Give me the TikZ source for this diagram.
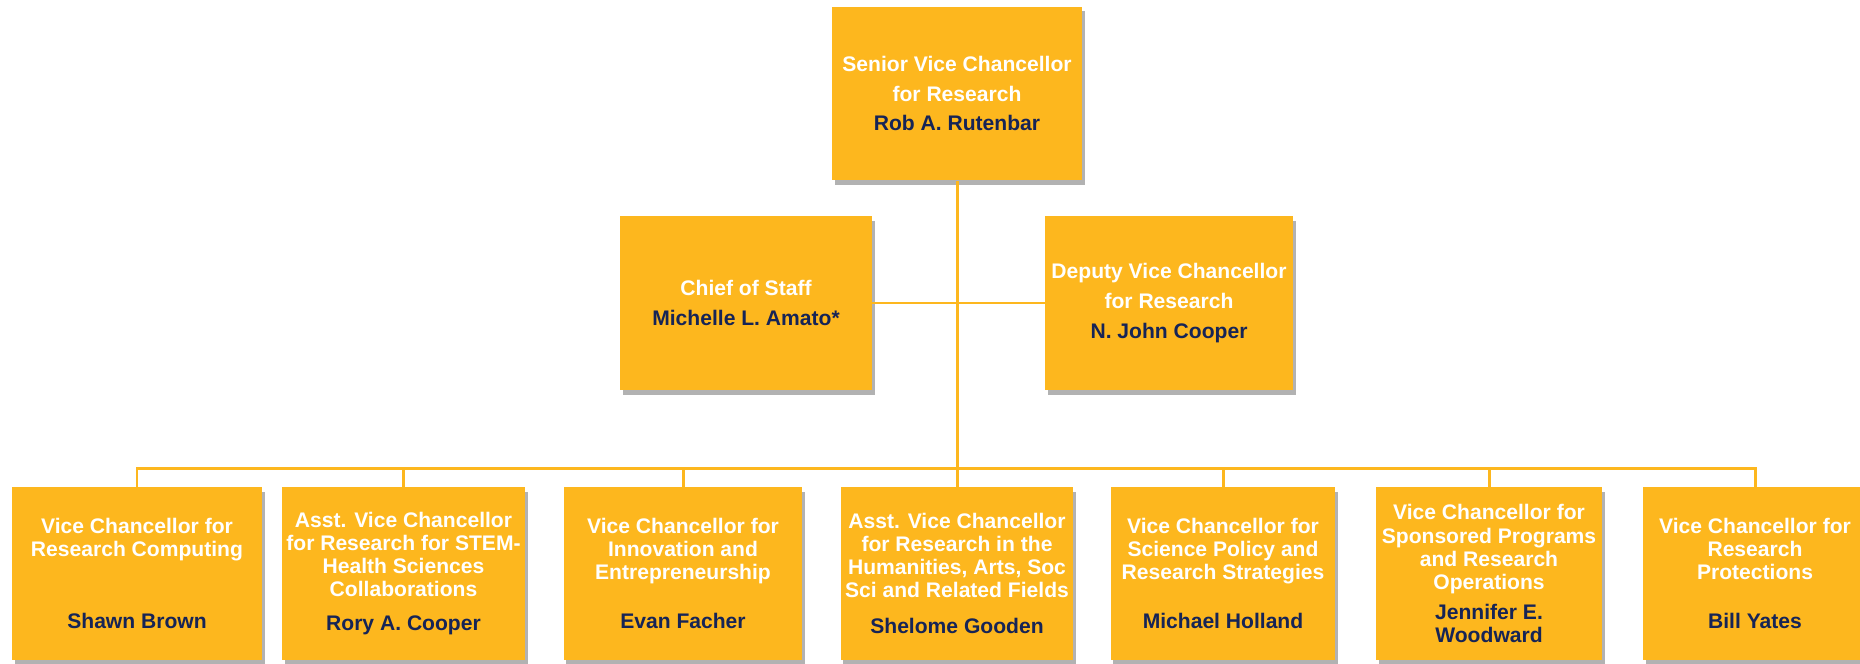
\documentclass[tikz,border=0pt]{standalone}
\usepackage{fontspec}
\setmainfont{Liberation Sans}
\usetikzlibrary{shadows}
\definecolor{gold}{RGB}{253,183,30}
\definecolor{navy}{RGB}{22,36,86}

\begin{document}
\begin{tikzpicture}[x=0.02cm,y=-0.02cm,
	box/.style={fill=gold,text=white,align=center,inner sep=0pt,
		font=\bfseries\fontsize{12}{17}\selectfont,
		minimum width=5cm,minimum height=3.48cm,
		drop shadow={shadow xshift=1.6pt,shadow yshift=-2.6pt,fill=black,opacity=.3}},
	lowbox/.style={box,font=\bfseries\fontsize{12}{13.1}\selectfont,minimum height=3.46cm},
	link/.style={draw=gold,line width=1.7pt}]
\useasboundingbox (0,0) rectangle (1860,663);

\node (top) at (957,93.5) [box] {Senior Vice Chancellor\\for Research\\\textcolor{navy}{Rob A. Rutenbar}};
\node (cos) at (746,303) [box,minimum width=5.04cm] {Chief of Staff\\\textcolor{navy}{Michelle L. Amato*}};
\node (dvc) at (1169,303) [box,minimum width=4.96cm] {Deputy Vice Chancellor\\for Research\\\textcolor{navy}{N. John Cooper}};

\node (b1) at (137,573.5) [lowbox] {Vice Chancellor for\\Research Computing\\[28pt]\textcolor{navy}{Shawn Brown}};
\node (b2) at (403.5,573.5) [lowbox,minimum width=4.86cm] {Asst. Vice Chancellor\\for Research for STEM-\\Health Sciences\\Collaborations\\[6pt]\textcolor{navy}{Rory A. Cooper}};
\node (b3) at (683,573.5) [lowbox,minimum width=4.78cm] {Vice Chancellor for\\Innovation and\\Entrepreneurship\\[15pt]\textcolor{navy}{Evan Facher}};
\node (b4) at (957,573.5) [lowbox,minimum width=4.66cm] {Asst. Vice Chancellor\\for Research in the\\Humanities, Arts, Soc\\Sci and Related Fields\\[7pt]\textcolor{navy}{Shelome Gooden}};
\node (b5) at (1223,573.5) [lowbox,minimum width=4.5cm] {Vice Chancellor for\\Science Policy and\\Research Strategies\\[15pt]\textcolor{navy}{Michael Holland}};
\node (b6) at (1489,573.5) [lowbox,minimum width=4.52cm] {Vice Chancellor for\\Sponsored Programs\\and Research\\Operations\\[4pt]\textcolor{navy}{Jennifer E.}\\\textcolor{navy}{Woodward}};
\node (b7) at (1755,573.5) [lowbox,minimum width=4.48cm] {Vice Chancellor for\\Research\\Protections\\[15pt]\textcolor{navy}{Bill Yates}};

\coordinate (bus) at (957,468);
\draw [link] (top) -- (b4);
\draw [link] (cos) -- (dvc);
\foreach \b in {b1,b2,b3,b5,b6,b7} {
	\draw [link] (\b.north) |- (bus);
	}
\end{tikzpicture}
\end{document}
